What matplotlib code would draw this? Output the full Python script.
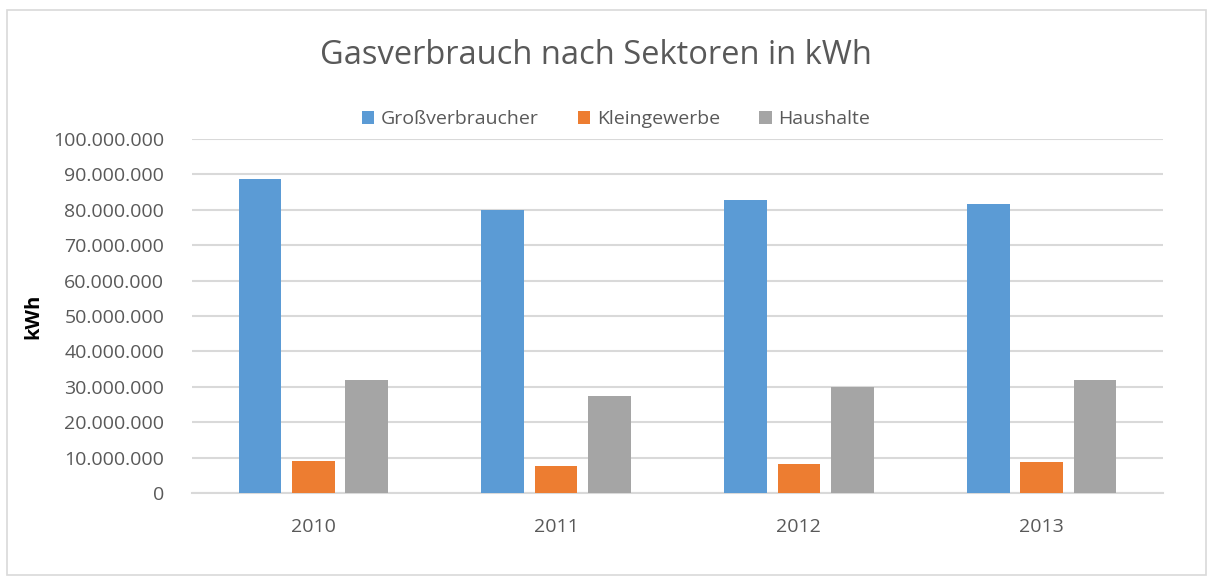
import numpy as np
import matplotlib.pyplot as plt
from matplotlib.patches import Rectangle
from matplotlib.ticker import FuncFormatter

jahre = ['2010', '2011', '2012', '2013']
grossverbraucher = [88.7e6, 79.9e6, 82.9e6, 81.6e6]
kleingewerbe = [9.0e6, 7.7e6, 8.3e6, 8.7e6]
haushalte = [31.8e6, 27.5e6, 29.9e6, 31.9e6]

serien = [('Großverbraucher', grossverbraucher, '#5b9bd5'),
          ('Kleingewerbe', kleingewerbe, '#ed7d31'),
          ('Haushalte', haushalte, '#a5a5a5')]

plt.rcParams['font.family'] = ['Open Sans', 'DejaVu Sans']

fig = plt.figure(figsize=(12.13, 5.78), dpi=100)
ax = fig.add_axes([192 / 1213, 1 - 493 / 578, (1163 - 192) / 1213, (493 - 139) / 578])

x = np.arange(len(jahre))
breite = 0.176
abstand = 0.22
for i, (name, werte, farbe) in enumerate(serien):
    ax.bar(x + (i - 1) * abstand, werte, breite, color=farbe, label=name, zorder=3)

ax.set_xlim(-0.5, len(jahre) - 0.5)
ax.set_ylim(0, 100e6)
ax.set_yticks(np.arange(0, 100e6 + 1, 10e6))
ax.yaxis.set_major_formatter(FuncFormatter(lambda v, p: f'{int(v):,}'.replace(',', '.')))
ax.set_xticks(x)
ax.set_xticklabels(jahre)
ax.tick_params(axis='both', length=0, labelsize=14, colors='#595959')
ax.tick_params(axis='y', pad=20)
ax.tick_params(axis='x', pad=18)
ax.grid(axis='y', color='#d9d9d9', linewidth=1.5, zorder=0)
for s in ['top', 'right', 'left']:
    ax.spines[s].set_visible(False)
ax.spines['bottom'].set_color('#d9d9d9')
ax.spines['bottom'].set_linewidth(1.5)

ax.set_ylabel('kWh', fontsize=14.5, fontweight='bold', color='black', labelpad=7)

fig.text(596 / 1213, 1 - 55 / 578, 'Gasverbrauch nach Sektoren in kWh',
         ha='center', va='center', fontsize=23.5, color='#595959')

fig.legend(loc='center', bbox_to_anchor=(616 / 1213, 1 - 119 / 578), ncol=3,
           frameon=False, fontsize=14, labelcolor='#595959',
           handlelength=0.65, handleheight=0.65, handletextpad=0.35, columnspacing=2.0)

fig.patches.append(Rectangle((7 / 1213, 3 / 578), 1199 / 1213, 565 / 578,
                             transform=fig.transFigure, fill=False,
                             edgecolor='#d9d9d9', linewidth=1.2))

plt.savefig('out.png', dpi=100)
